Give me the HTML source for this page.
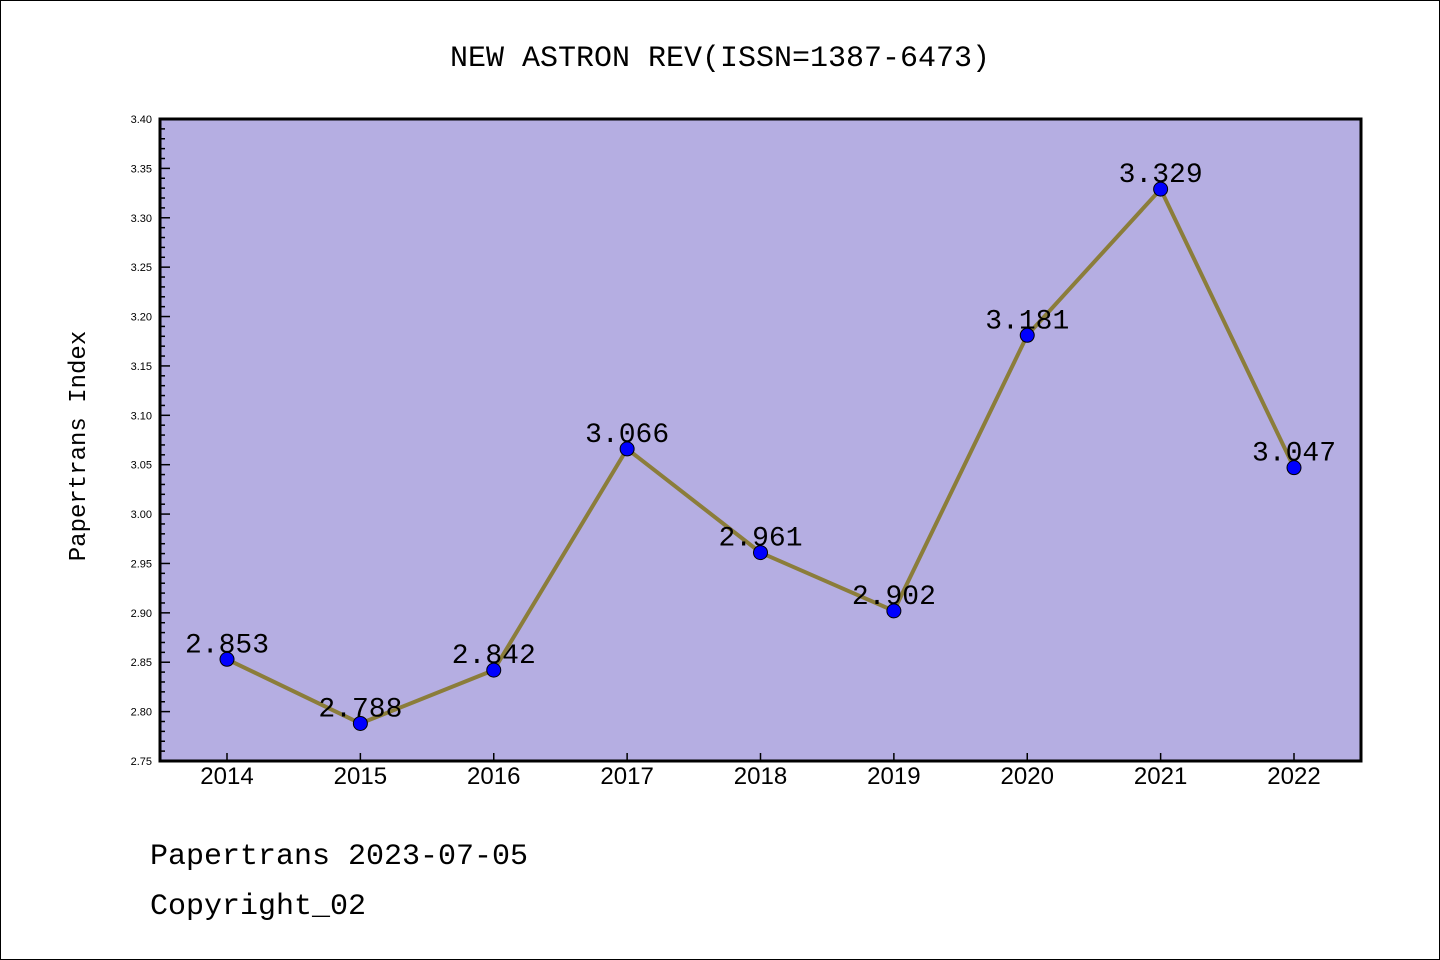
<!DOCTYPE html>
<html><head><meta charset="utf-8"><style>
body{margin:0;background:#fff;}
svg{display:block;font-family:"Liberation Mono","Noto Sans CJK SC",monospace;}
</style></head><body>
<svg id="chart" width="1440" height="960">
<rect x="0.5" y="0.5" width="1439" height="959" fill="#fff" stroke="#000"/>
<text x="720" y="66" text-anchor="middle" font-size="30">NEW ASTRON REV(ISSN=1387-6473)</text>
<rect x="160" y="119" width="1201" height="642" fill="#b5aee2"/>
<g id="ticks"></g>
<g id="marks"></g>
<rect x="160" y="119" width="1201" height="642" fill="none" stroke="#000" stroke-width="3"/>
<text x="85" y="446" text-anchor="middle" font-size="24" transform="rotate(-90 85 446)">Papertrans Index</text>
<text x="150" y="864" font-size="30">Papertrans 2023-07-05</text>
<text x="150" y="914" font-size="30">Copyright_02</text>
</svg>
<script>
const years=[2014,2015,2016,2017,2018,2019,2020,2021,2022];
const values=[2.853,2.788,2.842,3.066,2.961,2.902,3.181,3.329,3.047];
const yTicks=[2.75,2.80,2.85,2.90,2.95,3.00,3.05,3.10,3.15,3.20,3.25,3.30,3.35,3.40];
const NS="http://www.w3.org/2000/svg";
const x0=160,x1=1361,y0=761,y1=119,ymin=2.75,ymax=3.40;
const xs=i=>227+i*(1294-227)/(years.length-1);
const ys=v=>y0-(v-ymin)/(ymax-ymin)*(y0-y1);
function mk(t,a,p){const e=document.createElementNS(NS,t);for(const k in a)e.setAttribute(k,a[k]);p.appendChild(e);return e;}
const tg=document.getElementById('ticks'),mg=document.getElementById('marks');
for(let k=0;k<=65;k++){const v=ymin+k*0.01;const y=ys(v);const major=k%5==0;
 const l=mk('line',{x1:x0,x2:x0+(major?10:5),y1:y,y2:y,stroke:'#000','stroke-width':1.5},tg);
 }
yTicks.forEach(v=>{const t=mk('text',{x:152,y:ys(v)+4,'text-anchor':'end','font-size':11,'font-family':'Liberation Sans, sans-serif'},tg);t.textContent=v.toFixed(2);
 });
years.forEach((yr,i)=>{const l=mk('line',{x1:xs(i),x2:xs(i),y1:y0,y2:y0-8,stroke:'#000','stroke-width':1.5},tg);
 
 const t=mk('text',{x:xs(i),y:784,'text-anchor':'middle','font-size':24,'font-family':'Liberation Sans, sans-serif'},tg);t.textContent=yr;
 });
const pl=mk('polyline',{points:values.map((v,i)=>xs(i)+','+ys(v)).join(' '),fill:'none',stroke:'#8b7d3a','stroke-width':4},mg);

values.forEach((v,i)=>{const c=mk('circle',{cx:xs(i),cy:ys(v),r:7,fill:'#0000ff',stroke:'#000','stroke-width':1},mg);
 
 const t=mk('text',{x:xs(i),y:ys(v)-7,'text-anchor':'middle','font-size':28},mg);t.textContent=v.toFixed(3);
 });
</script>
</body></html>
